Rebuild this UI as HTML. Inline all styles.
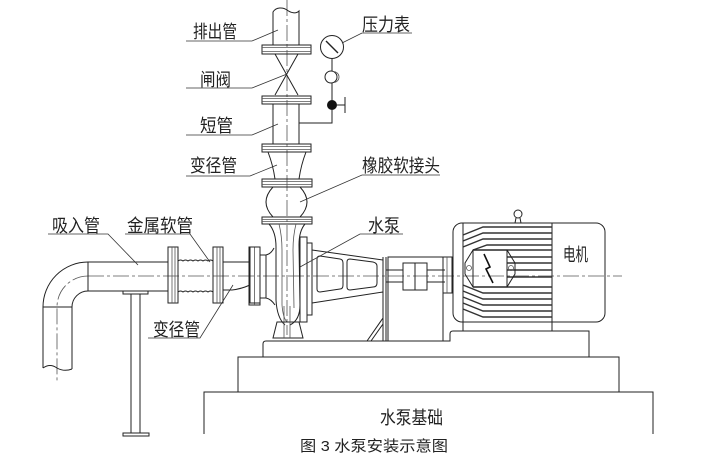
<!DOCTYPE html>
<html><head><meta charset="utf-8"><style>
html,body{margin:0;padding:0;background:#fff;}
svg{display:block;}
.l{fill:none;stroke:#222;stroke-width:1;}
.t{fill:none;stroke:#555;stroke-width:0.8;}
.f{fill:none;stroke:#333;stroke-width:1.4;}
.c{fill:none;stroke:#555;stroke-width:0.8;stroke-dasharray:16 3 3 3;}
.ld{fill:none;stroke:#333;stroke-width:0.8;}
text{font-family:"Liberation Sans","Noto Sans CJK SC",sans-serif;fill:#222;}
.lab{font-size:18px;}
</style></head><body>
<svg width="725" height="458" viewBox="0 0 725 458" xmlns="http://www.w3.org/2000/svg">
<rect x="0" y="0" width="725" height="458" fill="#fff"/>

<!-- centerlines -->
<line class="c" x1="287" y1="0" x2="287" y2="335"/>
<line class="c" x1="88" y1="276" x2="622" y2="276"/>
<path class="c" d="M88,276 A31,31 0 0 0 57,307 L57,381"/>

<!-- discharge pipe -->
<path class="l" d="M273,45 L273,12 C276,7 283,7 287,10 C291,13 296,14 299,11 L299,45"/>
<rect class="l" x="262" y="45" width="49" height="9"/>
<line class="t" x1="262" y1="47.5" x2="311" y2="47.5"/><line class="t" x1="262" y1="51.5" x2="311" y2="51.5"/>
<path class="l" d="M275,54 L298,95 M298,54 L275,95"/>
<rect class="l" x="262" y="96" width="49" height="8"/>
<line class="t" x1="262" y1="98.5" x2="311" y2="98.5"/><line class="t" x1="262" y1="101.5" x2="311" y2="101.5"/>
<path class="l" d="M273,104 V144 M299,104 V144"/>
<rect class="l" x="262" y="144" width="49" height="8"/>
<line class="t" x1="262" y1="146.5" x2="311" y2="146.5"/><line class="t" x1="262" y1="149.5" x2="311" y2="149.5"/>
<path class="l" d="M268,152 Q273,165 275,179 M306,152 Q301,165 299,179"/>
<rect class="l" x="262" y="179" width="50" height="8"/>
<line class="t" x1="262" y1="181.5" x2="312" y2="181.5"/><line class="t" x1="262" y1="184.5" x2="312" y2="184.5"/>
<path class="l" d="M273,187 Q259,202 273,217 M300,187 Q314,202 300,217"/>
<rect class="l" x="262" y="217" width="50" height="7"/>
<line class="t" x1="262" y1="219.5" x2="312" y2="219.5"/><line class="t" x1="262" y1="221.5" x2="312" y2="221.5"/>

<!-- pressure gauge -->
<circle class="l" cx="332" cy="47" r="11.5"/>
<line x1="326" y1="41" x2="338" y2="53" stroke="#222" stroke-width="1.4"/>
<line class="l" x1="332" y1="58.5" x2="332" y2="71"/>
<circle class="l" cx="331" cy="77" r="6"/>
<path class="t" d="M333,71.5 A5.5,5.5 0 0 1 334,82.5"/>
<line class="l" x1="332" y1="83" x2="332" y2="100"/>
<circle cx="332" cy="105" r="5" fill="#111"/>
<path class="l" d="M337,105 L345,105 M345,97 L345,113"/>
<path class="l" d="M332,110 L332,123 L299,123"/>

<!-- pump casing -->
<path class="l" d="M269,224 Q276,232 276,247 L276,300 Q277,318 285,325"/>
<path class="t" d="M279,224 Q282,236 282,250 L282,305 Q283,318 287,322"/>
<path class="l" d="M305,224 Q299,231 299,245 L300,305 Q300,320 290,325"/>
<path class="t" d="M296,224 Q293,236 293,250 L294,308"/>
<rect class="l" x="249" y="247" width="11" height="58"/>
<line class="t" x1="254.5" y1="247" x2="254.5" y2="305"/>
<path class="l" d="M260,255 L266,255 Q271,254 274,248 M260,298 L266,298 Q271,299 275,305 M266,255 L266,298"/>
<rect class="l" x="300" y="237" width="7" height="85"/>
<rect class="l" x="307" y="243" width="5" height="72"/>
<path class="l" d="M277,322 L273,338 L303,338 L299,322 Z"/>
<path class="t" d="M284,306 V338 M290,306 V338"/>

<!-- bracket -->
<path class="l" d="M312,250 L383,260 M312,303 L383,292"/>
<path class="l" d="M320,256 L340,259 Q343,259.5 343,263 L343,285 Q343,289 340,289 L320,292 Q317,292 317,289 L317,259 Q317,256 320,256 Z"/>
<path class="l" d="M350,259 L373,262 Q377,263 377,266 L377,283 Q377,287 373,287 L350,290 Q347,290 347,287 L347,262 Q347,259 350,259 Z"/>
<path class="l" d="M383,257 V341 M386,257 V341"/>
<path class="l" d="M383,318 L367,341 M383,324 L371,341"/>

<!-- coupling guard -->
<rect class="l" x="388" y="257" width="55" height="84"/>
<path class="l" d="M386,270 H403 M386,282 H403 M427,270 H445 M427,282 H445"/>
<rect class="l" x="403" y="263" width="24" height="27"/>
<line class="l" x1="415" y1="263" x2="415" y2="290"/>
<rect class="l" x="443" y="257" width="9" height="36"/>
<line class="t" x1="447" y1="257" x2="447" y2="293"/>

<!-- motor -->
<circle class="l" cx="518" cy="214" r="4"/>
<path class="l" d="M516,218 L515,223 M520,218 L521,223"/>
<rect class="l" x="453" y="223" width="152" height="99" rx="9"/>
<path class="l" d="M463,223 V331 M552,223 V331"/>
<path class="f" d="M552,227 H483 L463,235 M552,233 H483 L463,241 M552,239 H483 L463,247 M552,245 H487 L473,250"/>
<path class="f" d="M552,250 H473 M507,257 H552 M507,263 H552 M507,270 H552 M507,277 H552 M552,287 H473"/>
<path class="f" d="M552,293 H483 L463,285 M552,299 H483 L463,291 M552,305 H483 L463,297 M552,311 H483 L463,303 M552,317 H483 L463,309"/>
<rect class="l" x="473" y="250" width="34" height="37"/>
<path class="l" d="M473,250 L465,263 L465,274 L473,287 M507,250 L515,263 L515,274 L507,287"/>
<circle class="t" cx="469" cy="268" r="2.5"/>
<circle class="t" cx="511" cy="268" r="2.5"/>
<path d="M484,254 L490,267 L486,269 L493,283" fill="none" stroke="#111" stroke-width="1.6"/>

<!-- base plate and foundation -->
<path class="l" d="M263,357 L263,344 Q263,341 266,341 L450,341 L450,334 Q450,331 453,331 L589,331 L589,357"/>
<rect class="l" x="238" y="357" width="381" height="35"/>
<path class="l" d="M204,434 L204,392 L653,392 L653,434"/>

<!-- suction pipe -->
<path class="l" d="M88,262 L168,262 M88,291 L168,291 M88,262 V291"/>
<path class="l" d="M88,262 A45,45 0 0 0 43,307 M88,291 A16,16 0 0 0 72,307 M43,307 H72"/>
<path class="l" d="M43,307 V368 M72,307 V369 M43,368 Q50,363 57,368 Q64,372 72,369"/>
<rect class="l" x="123" y="291" width="25" height="3"/>
<path class="l" d="M131,294 V433 M140,294 V433"/>
<rect class="l" x="123" y="433" width="26" height="3"/>

<rect class="l" x="168" y="247" width="10" height="56"/>
<path class="t" d="M172,247 V303 M175,247 V303"/>
<path class="l" d="M178,261 q2.5,-2 5,0 q2.5,-2 5,0 q2.5,-2 5,0 q2.5,-2 5,0 q2.5,-2 5,0 q2.5,-2 5,0 q2.5,-2 5,0"/>
<path class="l" d="M178,292 q2.5,-2 5,0 q2.5,-2 5,0 q2.5,-2 5,0 q2.5,-2 5,0 q2.5,-2 5,0 q2.5,-2 5,0 q2.5,-2 5,0"/>
<rect class="l" x="213" y="247" width="10" height="56"/>
<path class="t" d="M217,247 V303 M220,247 V303"/>
<path class="l" d="M223,262 L250,262 M223,290 L232,290 Q241,289 250,285"/>
<rect class="l" x="250" y="247" width="10" height="56"/>

<!-- leaders -->
<path class="ld" d="M186,41 L252,41 L278,30"/>
<path class="ld" d="M186,88 L252,88 L287,74"/>
<path class="ld" d="M186,135 L252,135 L278,124"/>
<path class="ld" d="M186,176 L250,176 L277,165"/>
<path class="ld" d="M412,33 L362,33 L342,43"/>
<path class="ld" d="M440,175 L362,175 L300,202"/>
<path class="ld" d="M48,234 L108,234 L138,265"/>
<path class="ld" d="M125,234 L190,234 L210,262"/>
<path class="ld" d="M403,234 L360,234 L300,267"/>
<path class="ld" d="M148,338 L200,338 L233,285"/>

<!-- labels -->
<text class="lab" x="193" y="38" textLength="44" lengthAdjust="spacingAndGlyphs">排出管</text>
<text class="lab" x="200" y="86" textLength="31" lengthAdjust="spacingAndGlyphs">闸阀</text>
<text class="lab" x="200" y="132" textLength="33" lengthAdjust="spacingAndGlyphs">短管</text>
<text class="lab" x="190" y="172" textLength="47" lengthAdjust="spacingAndGlyphs">变径管</text>
<text class="lab" x="362" y="31" textLength="48" lengthAdjust="spacingAndGlyphs">压力表</text>
<text class="lab" x="362" y="172" textLength="78" lengthAdjust="spacingAndGlyphs">橡胶软接头</text>
<text class="lab" x="52" y="232" textLength="48" lengthAdjust="spacingAndGlyphs">吸入管</text>
<text class="lab" x="127" y="232" textLength="66" lengthAdjust="spacingAndGlyphs">金属软管</text>
<text class="lab" x="368" y="232" textLength="32" lengthAdjust="spacingAndGlyphs">水泵</text>
<text class="lab" x="563" y="261" textLength="25" lengthAdjust="spacingAndGlyphs">电机</text>
<text class="lab" x="153" y="336" textLength="47" lengthAdjust="spacingAndGlyphs">变径管</text>
<text class="lab" x="380" y="424" textLength="63" lengthAdjust="spacingAndGlyphs">水泵基础</text>
<text x="300" y="451" font-size="15" textLength="148" lengthAdjust="spacingAndGlyphs" fill="#111">图 3 水泵安装示意图</text>
</svg>
</body></html>
